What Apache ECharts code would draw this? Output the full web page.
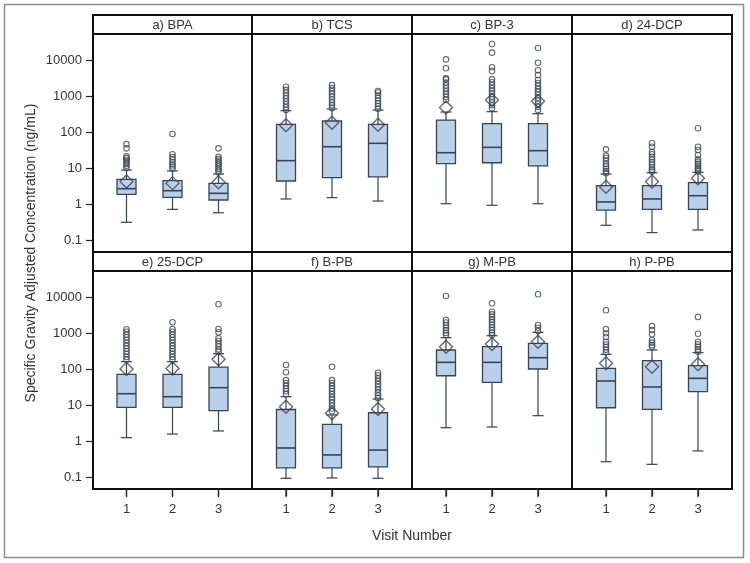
<!DOCTYPE html>
<html><head><meta charset="utf-8">
<script src="https://cdn.jsdelivr.net/npm/echarts@6/dist/echarts.min.js"></script>
<style>html,body{margin:0;padding:0;background:#fff}#c{width:750px;height:563px}</style>
</head><body><div id="c"></div>
<script>
// ---------- data ----------
const panelTitles = ['a) BPA', 'b) TCS', 'c) BP-3', 'd) 24-DCP', 'e) 25-DCP', 'f) B-PB', 'g) M-PB', 'h) P-PB'];
const visits = ['1', '2', '3'];
const yTickValues = [0.1, 1, 10, 100, 1000, 10000];
const yTickLabels = ['0.1', '1', '10', '100', '1000', '10000'];

// [lower whisker, Q1, median, Q3, upper whisker] per visit
const bpaBox = [[0.31, 1.86, 2.66, 4.85, 8.8], [0.71, 1.53, 2.34, 4.45, 8.3], [0.57, 1.29, 1.98, 3.76, 6.8]];
const tcsBox = [[1.38, 4.35, 16, 163, 391], [1.5, 5.4, 39, 202, 435], [1.21, 5.7, 48.5, 163, 408]];
const bp3Box = [[1.02, 13.2, 26.6, 215, 359], [0.92, 14, 37.5, 170, 367], [1.02, 11.4, 30.3, 170, 323]];
const dcp24Box = [[0.256, 0.68, 1.14, 3.22, 6.8], [0.16, 0.71, 1.38, 3.22, 7.4], [0.19, 0.71, 1.7, 3.92, 7.6]];
const dcp25Box = [[1.24, 8.6, 20.6, 71, 160], [1.56, 8.6, 17, 71, 160], [1.9, 6.95, 30.3, 113, 266]];
const bpbBox = [[0.092, 0.18, 0.64, 7.5, 17], [0.094, 0.18, 0.41, 2.91, 5.3], [0.092, 0.19, 0.56, 6.1, 14.7]];
const mpbBox = [[2.34, 65, 153, 337, 741], [2.45, 42.7, 153, 417, 843], [5.05, 100, 206, 516, 1045]];
const ppbBox = [[0.266, 8.4, 46.4, 104, 255], [0.225, 7.6, 31.6, 170, 337], [0.53, 23.5, 55, 124, 284]];

// means per visit
const bpaMean = [4.2, 3.8, 4.0];
const tcsMean = [155, 182, 160];
const bp3Mean = [480, 780, 720];
const dcp24Mean = [3.0, 4.2, 5.2];
const dcp25Mean = [100, 104, 186];
const bpbMean = [9.0, 5.9, 7.7];
const mpbMean = [416, 494, 573];
const ppbMean = [144, 116, 135];

// outliers per visit
const bpaOut = [[46, 35, 21, 19, 17, 15, 13, 11.5, 10], [88, 24, 20, 17, 14.5, 12.5, 11, 9.5], [35, 20.5, 18, 16, 14, 12.5, 11, 9.5, 8.5, 7.5]];
const tcsOut = [[1800, 1480, 1230, 1020, 850, 710, 590, 490, 410], [2000, 1650, 1380, 1150, 960, 800, 660, 550, 460], [1380, 1250, 1050, 880, 740, 620, 520, 440]];
const bp3Out = [[10400, 5880, 3090, 2900, 2380, 1970, 1640, 1360, 1130, 940, 780],
                [27800, 16000, 6270, 4950, 2900, 2400, 2000, 1650, 1380, 1150, 950, 800, 660, 550, 460],
                [21500, 8410, 5180, 3830, 2780, 2300, 1900, 1570, 1300, 1080, 890, 740, 610, 500, 410]];
const dcp24Out = [[33, 22, 19, 16, 13, 11, 9.5, 8.2, 7.2], [48.5, 39, 28, 24, 20, 17, 14.5, 12.5, 10.5, 9, 8], [127, 39, 31.6, 23, 17.5, 15, 13, 11.5, 10, 9, 8]];
const dcp25Out = [[1270, 1080, 900, 760, 640, 530, 440, 370, 310, 260, 215, 180],
                  [1980, 1290, 1080, 900, 760, 640, 530, 440, 370, 310, 260, 215, 180],
                  [6270, 1290, 1045, 713, 600, 500, 420, 350, 305]];
const bpbOut = [[129, 81, 49, 41, 34, 28.5, 24, 20], [116, 49, 41, 34, 28.5, 24, 20, 16.5, 14, 11.5, 9.5, 8, 6.7], [79, 66, 55, 46, 38, 32, 27, 22, 18.5, 15.5]];
const mpbOut = [[10660, 2300, 1950, 1650, 1400, 1180, 1000, 880], [6690, 3900, 3300, 2800, 2350, 2000, 1700, 1420, 1200, 1020, 880], [11900, 1670, 1400, 1140]];
const ppbOut = [[4270, 1267, 981, 774, 573, 480, 410, 345, 290], [1563, 1211, 920, 640, 540, 460, 415], [2780, 957, 573, 480, 410, 350, 303]];

const allBoxes = [bpaBox, tcsBox, bp3Box, dcp24Box, dcp25Box, bpbBox, mpbBox, ppbBox];
const allMeans = [bpaMean, tcsMean, bp3Mean, dcp24Mean, dcp25Mean, bpbMean, mpbMean, ppbMean];
const allOuts = [bpaOut, tcsOut, bp3Out, dcp24Out, dcp25Out, bpbOut, mpbOut, ppbOut];

// ---------- layout / style ----------
const colEdges = [93, 252, 412, 572, 732];
const rowTops = [34, 271];
const plotH = 218;
const headerH = 19;
const bandW = 46;
// log10 range shown; values are offset so that the axis bottom is 0
const logMin = -1 - 12 / 36, logMax = -1 + 206 / 36;
const FONT = '"Liberation Sans", Arial, sans-serif';
const BOX_FILL = '#b9d0eb';
const STROKE = '#3a4350';
const LINE = '#111';

const ly = v => Math.log10(v) - logMin;

function makeRenderBox(withTick) {
  return function (params, api) {
    const x = api.value(0);
    const pL = api.coord([x, api.value(1)]);
    const p1 = api.coord([x, api.value(2)]);
    const pM = api.coord([x, api.value(3)]);
    const p3 = api.coord([x, api.value(4)]);
    const pH = api.coord([x, api.value(5)]);
    const pB = api.coord([x, 0]);
    const cx = pL[0], hw = 9.5, cw = 5.5;
    const ls = { stroke: STROKE, lineWidth: 1.2 };
    const children = [
      { type: 'line', shape: { x1: cx, y1: pL[1], x2: cx, y2: p1[1] }, style: ls },
      { type: 'line', shape: { x1: cx, y1: p3[1], x2: cx, y2: pH[1] }, style: ls },
      { type: 'line', shape: { x1: cx - cw, y1: pL[1], x2: cx + cw, y2: pL[1] }, style: ls },
      { type: 'line', shape: { x1: cx - cw, y1: pH[1], x2: cx + cw, y2: pH[1] }, style: ls },
      { type: 'rect', shape: { x: cx - hw, y: p3[1], width: 2 * hw, height: p1[1] - p3[1] }, style: { fill: BOX_FILL, stroke: STROKE, lineWidth: 1.3 } },
      { type: 'line', shape: { x1: cx - hw, y1: pM[1], x2: cx + hw, y2: pM[1] }, style: { stroke: STROKE, lineWidth: 1.6 } }
    ];
    if (withTick) {
      // category tick below the panel, at the visit position
      children.push({ type: 'line', shape: { x1: cx, y1: pB[1], x2: cx, y2: pB[1] + 8 }, style: { stroke: '#222', lineWidth: 1.3 } });
    }
    return { type: 'group', children: children };
  };
}

const grids = [], xAxes = [], yAxes = [], series = [], graphics = [];
const yTickPos = yTickValues.map(ly);

for (let i = 0; i < 8; i++) {
  const row = Math.floor(i / 4), col = i % 4;
  const left = colEdges[col], width = colEdges[col + 1] - colEdges[col];
  const pad = (width - bandW * visits.length) / 2;
  grids.push({ left: left + pad, top: rowTops[row], width: bandW * visits.length, height: plotH, show: false });
  xAxes.push({
    gridIndex: i, type: 'category', data: visits, boundaryGap: true, position: 'bottom',
    axisLine: { show: true, lineStyle: { color: LINE, width: 2 } }, splitLine: { show: false },
    axisTick: { show: row === 1, alignWithLabel: true, length: 7, lineStyle: { color: '#222', width: 1.2 } },
    axisLabel: { show: row === 1, margin: 14, fontSize: 13, color: '#333', fontFamily: FONT }
  });
  yAxes.push({
    gridIndex: i, type: 'value', min: 0, max: logMax - logMin, position: 'left', offset: pad,
    axisLine: { show: false }, splitLine: { show: false },
    axisTick: { show: col === 0, customValues: yTickPos, length: 7, lineStyle: { color: '#222', width: 1.2 } },
    axisLabel: { show: col === 0, customValues: yTickPos, margin: 11, fontSize: 13, color: '#333', fontFamily: FONT,
      formatter: v => yTickLabels[Math.round(v + logMin) + 1] }
  });
  series.push({
    type: 'custom', xAxisIndex: i, yAxisIndex: i, silent: true, z: 2, clip: false,
    renderItem: makeRenderBox(row === 1), encode: { x: 0, y: [1, 2, 3, 4, 5] },
    data: allBoxes[i].map((b, k) => [k].concat(b.map(ly)))
  });
  const outData = [];
  allOuts[i].forEach((arr, k) => arr.forEach(v => outData.push([k, ly(v)])));
  series.push({
    type: 'scatter', xAxisIndex: i, yAxisIndex: i, silent: true, z: 3,
    symbol: 'circle', symbolSize: 5.5,
    itemStyle: { color: 'rgba(255,255,255,0)', borderColor: STROKE, borderWidth: 1.1 },
    data: outData
  });
  series.push({
    type: 'scatter', xAxisIndex: i, yAxisIndex: i, silent: true, z: 4,
    symbol: 'diamond', symbolSize: [13, 13],
    itemStyle: { color: 'rgba(255,255,255,0)', borderColor: STROKE, borderWidth: 1.4 },
    data: allMeans[i].map((m, k) => [k, ly(m)])
  });
  // panel frame and header
  graphics.push({ type: 'rect', z: 9, shape: { x: left, y: rowTops[row], width: width, height: plotH },
    style: { fill: 'none', stroke: LINE, lineWidth: 2 } });
  graphics.push({ type: 'rect', z: 10, shape: { x: left, y: rowTops[row] - headerH, width: width, height: headerH },
    style: { fill: '#fff', stroke: LINE, lineWidth: 2 } });
  graphics.push({ type: 'text', z: 11, x: left + width / 2, y: rowTops[row] - headerH / 2 + 0.5,
    style: { text: panelTitles[i], align: 'center', verticalAlign: 'middle', font: '13px ' + FONT, fill: '#333' } });
}

// outer frame and axis titles
graphics.push({ type: 'rect', z: 0, shape: { x: 4.5, y: 4.5, width: 739, height: 553 }, style: { fill: 'none', stroke: '#8c8c8c', lineWidth: 1.5 } });
graphics.push({ type: 'text', z: 11, x: 31, y: 253, rotation: Math.PI / 2,
  style: { text: 'Specific Gravity Adjusted Concentration (ng/mL)', align: 'center', verticalAlign: 'middle', font: '14px ' + FONT, fill: '#333' } });
graphics.push({ type: 'text', z: 11, x: 412, y: 536,
  style: { text: 'Visit Number', align: 'center', verticalAlign: 'middle', font: '14px ' + FONT, fill: '#333' } });

const chart = echarts.init(document.getElementById('c'), null, { renderer: 'canvas' });
chart.setOption({
  animation: false,
  backgroundColor: '#fff',
  grid: grids, xAxis: xAxes, yAxis: yAxes, series: series,
  graphic: { elements: graphics }
});
</script></body></html>
